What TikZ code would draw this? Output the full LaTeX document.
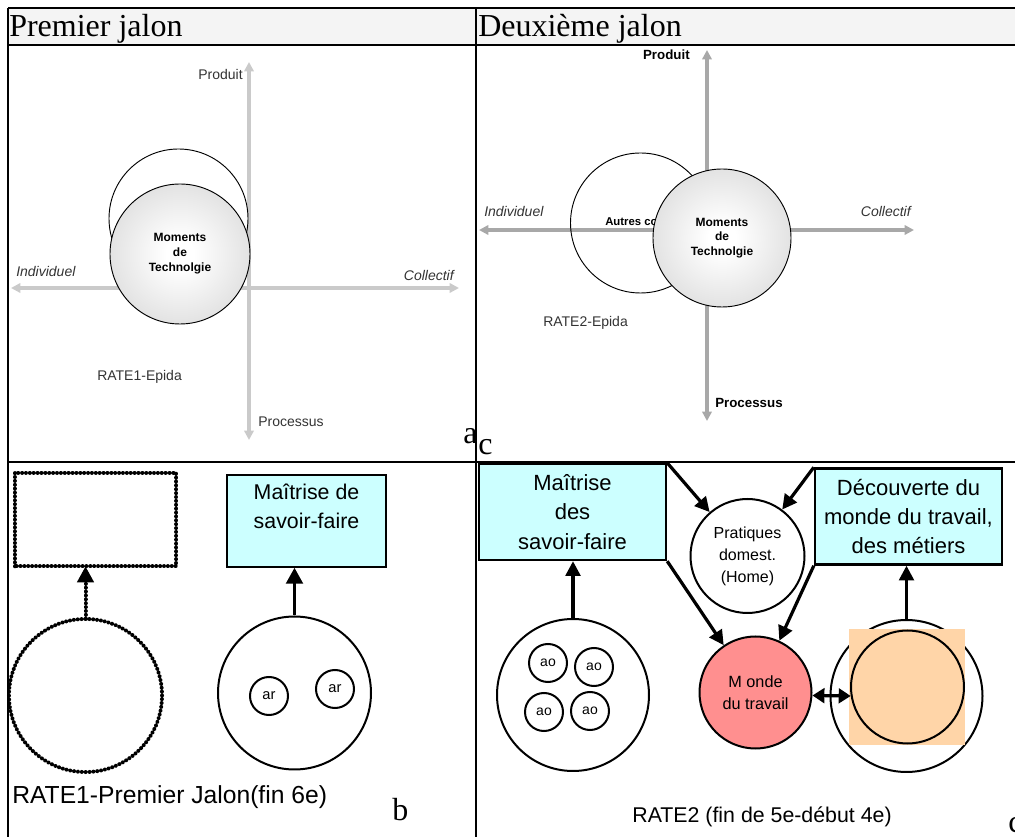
\documentclass[tikz,border=0pt]{standalone}
\usepackage{fontspec}
\setmainfont{Liberation Serif}
\setsansfont{Liberation Sans}
\usetikzlibrary{positioning,arrows.meta}
\definecolor{headgray}{HTML}{F4F4F4}
\definecolor{axislight}{HTML}{CACACA}
\definecolor{axisdark}{HTML}{A8A8A8}
\definecolor{boxcyan}{HTML}{CCFFFF}
\definecolor{worldred}{HTML}{FF8F8F}
\definecolor{peach}{HTML}{FFD5A8}
\pgfdeclareradialshading{techshade}{\pgfpoint{0bp}{0bp}}{color(0bp)=(white); color(5bp)=(white); color(50bp)=(gray!50); color(100bp)=(gray!50)}

\begin{document}
\begin{tikzpicture}[x=0.75pt, y=-0.75pt,
  rule/.style={line width=1.5pt},
  axisL/.style={line width=2.6pt, color=axislight, {Triangle[length=7pt,width=7pt]}-{Triangle[length=7pt,width=7pt]}},
  axisD/.style={line width=2.6pt, color=axisdark, {Triangle[length=7pt,width=7pt]}-{Triangle[length=7pt,width=7pt]}},
  lab/.style={inner sep=0pt, font=\sffamily\fontsize{10.5}{12}\selectfont, text=black!80},
  labit/.style={lab, font=\sffamily\itshape\fontsize{10.5}{12}\selectfont},
  labbf/.style={inner sep=0pt, font=\sffamily\bfseries\fontsize{10}{12}\selectfont},
  thin circ/.style={circle, draw, fill=white, line width=0.7pt, inner sep=0pt},
  tech/.style={circle, draw, line width=0.7pt, shading=techshade, inner sep=0pt, align=center, font=\sffamily\bfseries\fontsize{9}{11.2}\selectfont},
  head/.style={inner sep=0pt, font=\fontsize{24}{26}\selectfont},
  beads/.style={line width=3pt, dash pattern=on 0.01pt off 2.9pt, line cap=round},
  bigtxt/.style={inner sep=0pt, align=center, font=\sffamily\fontsize{16.5}{22}\selectfont},
  cyanbox/.style={draw, fill=boxcyan, line width=1.8pt, minimum width=140.25pt, minimum height=72pt, bigtxt},
  ring/.style={circle, draw, line width=1.5pt, inner sep=0pt},
  small/.style={ring, minimum size=28.5pt, font=\sffamily\fontsize{10.5}{12}\selectfont},
  conn/.style={line width=2.4pt, -{Triangle[length=11pt,width=11pt]}},
  caption/.style={inner sep=0pt, font=\sffamily\fontsize{16}{18}\selectfont}
]
\useasboundingbox (0,0) rectangle (1015,837);
% header row
\fill[headgray] (8,8) rectangle (1015,45);
\node[head, anchor=base west] (h1) at (9,37) {Premier jalon};
\node[head, anchor=base west] (h2) at (478,37) {Deuxième jalon};

% cell a
\coordinate (aN) at (249,62);
\coordinate (aS) at (249,440);
\coordinate (aW) at (11,288);
\coordinate (aE) at (459,288);
\draw[axisL] (aN) -- (aS);
\draw[axisL] (aW) -- (aE);
\node[lab, anchor=east] (aprod) at (243,75) {Produit};
\node[labit, anchor=west] (aind) at (16,272) {Individuel};
\node[labit, anchor=east] (acol) at (454,276) {Collectif};
\node[lab, anchor=west] (aproc) at (258,422) {Processus};
\node[lab, anchor=west] (arate) at (97,377) {RATE1-Epida};
\node[thin circ, minimum size=104.25pt] (aw) at (178.5,218.5) {};
\node[tech, minimum size=105pt] (at) at (180,254) {Moments\\de\\Technolgie};
\node[head, anchor=base west] (la) at (463,444) {a};

% cell c
\coordinate (cN) at (707,50);
\coordinate (cS) at (707,421);
\coordinate (cW) at (479,230);
\coordinate (cE) at (914,230);
\draw[axisD] (cN) -- (cS);
\draw[axisD] (cW) -- (cE);
\node[labbf, anchor=east] (cprod) at (690,55) {Produit};
\node[labit, anchor=west] (cind) at (484,212) {Individuel};
\node[labit, anchor=east] (ccol) at (911,212) {Collectif};
\node[labbf, anchor=west] (cproc) at (715,403) {Processus};
\node[lab, anchor=west] (crate) at (543,323) {RATE2-Epida};
\node[thin circ, fill=none, minimum size=105pt] (cw) at (640.5,223) {};
\node[inner sep=0pt, anchor=west, font=\sffamily\bfseries\fontsize{8.5}{10}\selectfont] (cautres) at (605,222) {Autres co};
\node[tech, minimum size=103.5pt, font=\sffamily\bfseries\fontsize{9}{10.9}\selectfont] (ct) at (722,238) {Moments\\de\\Technolgie};
\node[head, anchor=base west] (lc) at (478,455) {c};

% cell b
\node[draw=none, minimum width=120.75pt, minimum height=69.75pt, inner sep=0pt] (drect) at (95.5,519.5) {};
\draw[beads] (drect.south west) rectangle (drect.north east);
\node[circle, minimum size=114.75pt, inner sep=0pt] (dcirc) at (85.5,695.5) {};
\draw[beads] (dcirc.center) circle[radius=57.4pt];
\draw[beads, -{Triangle[length=12pt,width=12pt]}] (dcirc.north) -- (dcirc.north |- drect.south);
\node[draw, fill=boxcyan, line width=1.1pt, minimum width=119.25pt, minimum height=69pt] (mdsb) at (306.5,521) {};
\node[bigtxt, font=\sffamily\fontsize{16}{22}\selectfont, yshift=10.9pt] (mdsbt) at (mdsb.center) {Maîtrise de\\savoir-faire};
\node[ring, minimum size=114.75pt] (arcirc) at (294.5,693) {};
\node[small, font=\sffamily\fontsize{11}{12}\selectfont] (ar1) at (269,696) {ar};
\node[small, font=\sffamily\fontsize{11}{12}\selectfont] (ar2) at (335,689) {ar};
\draw[line width=2.5pt, -{Triangle[length=12pt,width=12.5pt]}] (arcirc.north) -- (arcirc.north |- mdsb.south);
\node[caption, font=\sffamily\fontsize{18.5}{20}\selectfont, anchor=west] (rate1) at (12,797) {RATE1-Premier Jalon(fin 6e)};
\node[head, anchor=base west] (lb) at (392,821) {b};

% cell d
\node[cyanbox] (mdsr) at (572.5,512) {Maîtrise\\des\\savoir-faire};
\node[ring, minimum size=114pt] (aocirc) at (573,695) {};
\node[small] (ao1) at (548,663) {ao};
\node[small] (ao2) at (594,667) {ao};
\node[small] (ao3) at (544,712) {ao};
\node[small] (ao4) at (590,711) {ao};
\node[ring, minimum size=85.5pt, align=center, font=\sffamily\fontsize{12}{16.5}\selectfont] (prat) at (747.5,556) {Pratiques\\domest.\\(Home)};
\node[cyanbox] (dmt) at (908.5,516.5) {Découverte du\\monde du travail,\\des métiers};
\node[ring, fill=worldred, minimum size=84pt, align=center, font=\sffamily\fontsize{12.2}{16.5}\selectfont] (monde) at (755.5,692.5) {M onde\\du travail};
\node[ring, minimum size=114pt] (rbig) at (906.5,696) {};
\node[fill=peach, minimum size=87pt, inner sep=0pt] (sq) at (907,687) {};
\node[ring, minimum size=84.75pt] (inner) at (907.5,687) {};
\draw[conn] (aocirc.north) -- (aocirc.north |- mdsr.south);
\draw[conn] (rbig.north) -- (rbig.north |- dmt.south);
\draw[conn] (mdsr.north east) -- (prat);
\draw[conn] (dmt.north west) -- (prat);
\draw[conn] (mdsr.south east) -- (monde);
\draw[conn] (dmt.south west) -- (monde);
\draw[line width=2.4pt, {Triangle[length=9pt,width=11pt]}-{Triangle[length=9pt,width=11pt]}] (monde.-3.5) -- (inner.189);
\node[caption] (rate2) at (762,817) {RATE2 (fin de 5e-début 4e)};
\node[head, anchor=base west] (ld) at (1008,833) {c};

% table rules
\draw[rule] (8,8) -- (1015,8);
\draw[rule] (8,45) -- (1015,45);
\draw[rule] (8,462) -- (1015,462);
\draw[rule] (8,8) -- (8,837);
\draw[rule] (476,8) -- (476,837);
\end{tikzpicture}
\end{document}
